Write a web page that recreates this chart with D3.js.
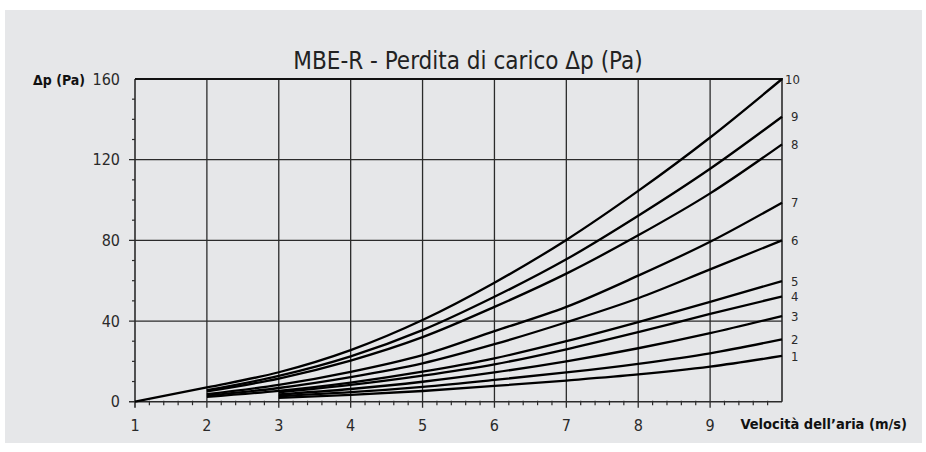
<!DOCTYPE html>
<html>
<head>
<meta charset="utf-8">
<script src="https://cdn.jsdelivr.net/npm/d3@7"></script>
<style>
  html, body { margin: 0; padding: 0; background: #ffffff; }
  svg { display: block; font-family: "Liberation Sans Narrow", "DejaVu Sans Condensed", "Roboto", sans-serif; }
</style>
</head>
<body>
<div id="chart"></div>
<script>
// ===== MBE-R pressure drop chart =====

const chartTitle = 'MBE-R - Perdita di carico Δp (Pa)';
const yTitle = 'Δp (Pa)';
const xTitle = 'Velocità dell\u2019aria (m/s)';

// air speed (m/s)
const velocity = [1, 2, 3, 4, 5, 6, 7, 8, 9, 10];
const xTicks = [1, 2, 3, 4, 5, 6, 7, 8, 9];
const yTicks = [0, 40, 80, 120, 160];

// pressure drop per curve (Pa), null = curve not drawn there
const curve1  = [null, null, 1.9, 3.4, 5.3, 7.8, 10.5, 13.5, 17.4, 22.7];
const curve2  = [null, null, 2.7, 4.7, 7.4, 10.8, 14.5, 18.8, 24.0, 30.9];
const curve3  = [null, null, 3.6, 6.3, 9.9, 14.5, 20.0, 26.5, 34.0, 42.5];
const curve4  = [null, null, 4.6, 8.3, 12.9, 18.5, 26.0, 34.5, 43.5, 52.2];
const curve5  = [null, 2.4, 5.4, 9.5, 14.9, 21.5, 30.0, 39.5, 49.5, 59.8];
const curve6  = [null, 3.0, 6.8, 12.2, 19.0, 28.5, 39.4, 51.3, 65.6, 80.0];
const curve7  = [null, 3.7, 8.3, 14.8, 23.1, 35.0, 47.0, 62.5, 79.3, 98.7];
const curve8  = [null, 5.1, 11.5, 20.4, 32.0, 47.0, 63.5, 82.5, 103.3, 127.6];
const curve9  = [null, 5.7, 12.8, 22.5, 35.5, 52.0, 70.6, 92.2, 115.5, 141.3];
const curve10 = [0, 7.1, 14.6, 25.6, 40.5, 59.0, 80.2, 104.5, 131.0, 160.0];

const curveNames = ['1', '2', '3', '4', '5', '6', '7', '8', '9', '10'];
const curveValues = [curve1, curve2, curve3, curve4, curve5, curve6, curve7, curve8, curve9, curve10];

const width = 926, height = 452;
const plotLeft = 135, plotRight = 782, plotTop = 79, plotBottom = 401.7;
const gridColor = '#2b2b2b';
const textColor = '#2a2a2a';

const svg = d3.select('#chart').append('svg')
    .attr('width', width)
    .attr('height', height);

// panel background
svg.append('rect')
    .attr('x', 5).attr('y', 10)
    .attr('width', 917).attr('height', 433)
    .attr('fill', '#e6e7e9');

const x = d3.scaleLinear().domain([1, 10]).range([plotLeft, plotRight]);
const y = d3.scaleLinear().domain([0, 160]).range([plotBottom, plotTop]);

const g = svg.append('g');

// minor ticks on y (every 10 Pa, pointing left)
const yMinor = d3.range(10, 160, 10).filter(v => v % 40 !== 0);
g.append('g').selectAll('line').data(yMinor).enter().append('line')
    .attr('x1', plotLeft - 3).attr('x2', plotLeft)
    .attr('y1', d => y(d)).attr('y2', d => y(d))
    .attr('stroke', gridColor).attr('stroke-width', 1.2);

// minor ticks on x (every 0.2 m/s)
const xMinor = d3.range(1, 10.001, 0.2).filter(v => Math.abs(v - Math.round(v)) > 0.01);
g.append('g').selectAll('line').data(xMinor).enter().append('line')
    .attr('x1', d => x(d)).attr('x2', d => x(d))
    .attr('y1', plotBottom - 1).attr('y2', plotBottom + 3.5)
    .attr('stroke', gridColor).attr('stroke-width', 1.2);

// horizontal grid (40, 80, 120) + zero line, with outer tick
g.append('g').selectAll('line').data([0, 40, 80, 120]).enter().append('line')
    .attr('x1', plotLeft - 6).attr('x2', plotRight)
    .attr('y1', d => y(d)).attr('y2', d => y(d))
    .attr('stroke', gridColor).attr('stroke-width', d => d === 0 ? 1.6 : 1.3);

// vertical grid 1..9, extended below as major tick
g.append('g').selectAll('line').data(xTicks).enter().append('line')
    .attr('x1', d => x(d)).attr('x2', d => x(d))
    .attr('y1', plotTop).attr('y2', plotBottom + 6)
    .attr('stroke', gridColor).attr('stroke-width', d => d === 1 ? 1.6 : 1.3);

// frame: top and right
g.append('line')
    .attr('x1', plotLeft).attr('x2', plotRight + 1)
    .attr('y1', plotTop).attr('y2', plotTop)
    .attr('stroke', '#111').attr('stroke-width', 2.2);
g.append('line')
    .attr('x1', plotRight).attr('x2', plotRight)
    .attr('y1', plotTop).attr('y2', plotBottom)
    .attr('stroke', gridColor).attr('stroke-width', 1.6);

// tick labels
g.append('g').selectAll('text').data(yTicks).enter().append('text')
    .attr('x', plotLeft - 15).attr('y', d => y(d))
    .attr('dy', '0.36em')
    .attr('text-anchor', 'end')
    .attr('font-size', 16)
    .attr('fill', textColor)
    .text(d => d);

g.append('g').selectAll('text').data(xTicks).enter().append('text')
    .attr('x', d => x(d)).attr('y', 425)
    .attr('dy', '0.36em')
    .attr('text-anchor', 'middle')
    .attr('font-size', 16)
    .attr('fill', textColor)
    .text(d => d);

// curves
const line = d3.line()
    .defined(d => d.v !== null)
    .x(d => x(d.s))
    .y(d => y(d.v))
    .curve(d3.curveMonotoneX);

const series = curveNames.map((name, i) => ({
    name: name,
    points: velocity.map((s, j) => ({ s: s, v: curveValues[i][j] }))
}));

g.append('g').selectAll('path').data(series).enter().append('path')
    .attr('d', d => line(d.points))
    .attr('fill', 'none')
    .attr('stroke', '#000')
    .attr('stroke-width', 2.3)
    .attr('stroke-linejoin', 'round');

// curve numbers on the right
g.append('g').selectAll('text').data(series).enter().append('text')
    .attr('x', d => d.name === '10' ? plotRight + 3 : plotRight + 9)
    .attr('y', d => y(d.points[d.points.length - 1].v))
    .attr('dy', '0.36em')
    .attr('font-size', 13)
    .attr('fill', textColor)
    .text(d => d.name);

// titles
svg.append('text')
    .attr('x', 468).attr('y', 60)
    .attr('dy', '0.36em')
    .attr('text-anchor', 'middle')
    .attr('font-size', 24)
    .attr('fill', '#222')
    .text(chartTitle);

svg.append('text')
    .attr('x', 33).attr('y', 80)
    .attr('dy', '0.36em')
    .attr('font-size', 14)
    .attr('font-weight', 'bold')
    .attr('fill', '#111')
    .text(yTitle);

svg.append('text')
    .attr('x', 907).attr('y', 424)
    .attr('dy', '0.36em')
    .attr('text-anchor', 'end')
    .attr('font-size', 14.5)
    .attr('font-weight', 'bold')
    .attr('fill', '#111')
    .text(xTitle);
</script>
</body>
</html>
